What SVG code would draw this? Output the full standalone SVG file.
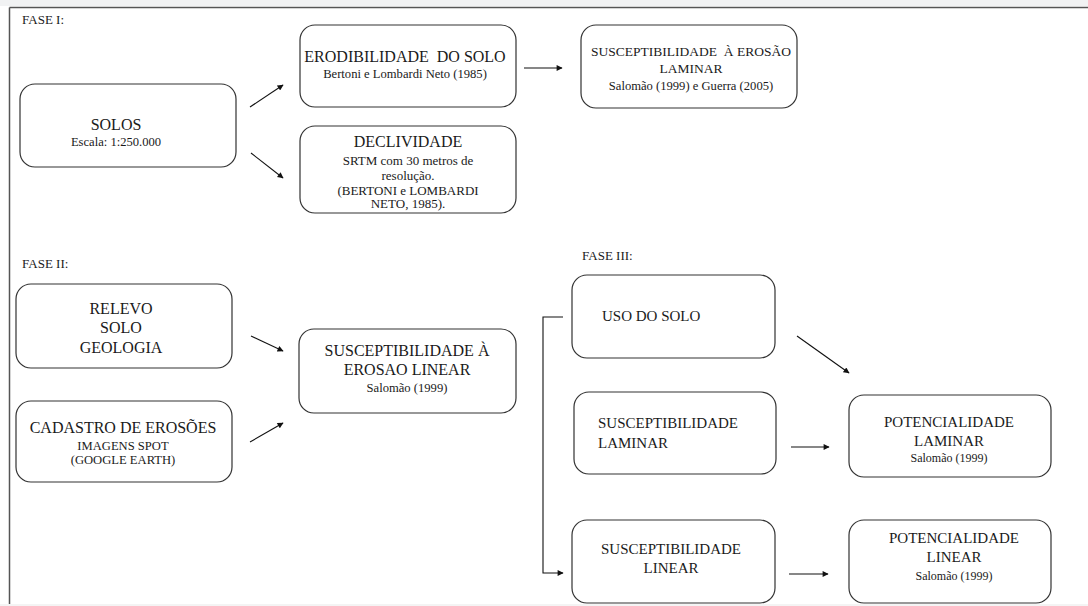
<svg xmlns="http://www.w3.org/2000/svg" width="1088" height="606" viewBox="0 0 1088 606" font-family="'Liberation Serif', 'Times New Roman', 'DejaVu Serif', serif">
<defs>
<marker id="ah" viewBox="0 0 10 10" refX="9" refY="5" markerWidth="7" markerHeight="6" markerUnits="userSpaceOnUse" orient="auto">
<path d="M0,0 L10,5 L0,10 z" fill="#111"/>
</marker>
<style>
.box{fill:#fff;stroke:#333;stroke-width:1.2}
text{font-family:'Liberation Serif','Times New Roman','DejaVu Serif',serif;fill:#1a1a1a}
.big{font-size:16px}
.b15{font-size:15px}
.mid{font-size:13.5px}
.s13{font-size:13px}
.sm{font-size:12.6px}
.s12{font-size:12px}
.ph{font-size:13px}
.c{text-anchor:middle}
.con{stroke:#111;stroke-width:1.1;fill:none}
</style>
</defs>
<rect x="0" y="0" width="1088" height="606" fill="#fff"/>
<rect x="0" y="0" width="1088" height="6" fill="#f1f2f3"/>
<rect x="0" y="604" width="1088" height="2" fill="#f4f4f4"/>
<g id="frame" stroke="#555" stroke-width="1.5">
<line x1="9.5" y1="7.5" x2="1088" y2="7.5"/>
<line x1="9.5" y1="7.5" x2="9.5" y2="604"/>
</g>
<g id="labels">
<text class="ph" x="22" y="24">FASE I:</text>
<text class="ph" x="22" y="268">FASE II:</text>
<text class="ph" x="582" y="260">FASE III:</text>
</g>
<g id="solos">
<rect class="box" x="20" y="84" width="216" height="83" rx="15"/>
<text class="big c" x="116" y="130">SOLOS</text>
<text class="sm c" x="116" y="146">Escala: 1:250.000</text>
</g>
<g id="erodibilidade">
<rect class="box" x="300" y="25" width="216" height="82" rx="15"/>
<text class="big c" x="405" y="62" xml:space="preserve">ERODIBILIDADE  DO SOLO</text>
<text class="sm c" x="405" y="78">Bertoni e Lombardi Neto (1985)</text>
</g>
<g id="declividade">
<rect class="box" x="300" y="126" width="216" height="87" rx="15"/>
<text class="big c" x="408" y="147">DECLIVIDADE</text>
<text class="s13 c" x="408" y="165">SRTM com 30 metros de</text>
<text class="s13 c" x="408" y="180">resolução.</text>
<text class="s13 c" x="408" y="195">(BERTONI e LOMBARDI</text>
<text class="s13 c" x="408" y="208">NETO, 1985).</text>
</g>
<g id="susc-erosao-laminar">
<rect class="box" x="581" y="25" width="216" height="83" rx="15"/>
<text class="mid c" x="691" y="56" xml:space="preserve">SUSCEPTIBILIDADE  À EROSÃO</text>
<text class="mid c" x="691" y="73">LAMINAR</text>
<text class="sm c" x="691" y="90">Salomão (1999) e Guerra (2005)</text>
</g>
<g id="relevo">
<rect class="box" x="16" y="284" width="216" height="84" rx="15"/>
<text class="big c" x="121" y="314">RELEVO</text>
<text class="big c" x="121" y="333">SOLO</text>
<text class="big c" x="121" y="353">GEOLOGIA</text>
</g>
<g id="cadastro">
<rect class="box" x="16" y="401" width="216" height="81" rx="15"/>
<text class="big c" x="123" y="433">CADASTRO DE EROSÕES</text>
<text class="sm c" x="123" y="450">IMAGENS SPOT</text>
<text class="sm c" x="123" y="464">(GOOGLE EARTH)</text>
</g>
<g id="susc-erosao-linear">
<rect class="box" x="299" y="329" width="217" height="84" rx="15"/>
<text class="big c" x="407" y="356">SUSCEPTIBILIDADE À</text>
<text class="big c" x="407" y="375">EROSAO LINEAR</text>
<text class="sm c" x="407" y="392">Salomão (1999)</text>
</g>
<g id="uso-do-solo">
<rect class="box" x="572" y="275" width="203" height="83" rx="15"/>
<text class="b15" x="602" y="321">USO DO SOLO</text>
</g>
<g id="susc-laminar">
<rect class="box" x="574" y="392" width="202" height="82" rx="15"/>
<text class="b15" x="598" y="428">SUSCEPTIBILIDADE</text>
<text class="b15" x="598" y="448">LAMINAR</text>
</g>
<g id="susc-linear">
<rect class="box" x="572" y="520" width="203" height="83" rx="15"/>
<text class="b15 c" x="671" y="554">SUSCEPTIBILIDADE</text>
<text class="b15 c" x="671" y="573">LINEAR</text>
</g>
<g id="pot-laminar">
<rect class="box" x="849" y="395" width="202" height="82" rx="15"/>
<text class="b15 c" x="949" y="427">POTENCIALIDADE</text>
<text class="b15 c" x="949" y="446">LAMINAR</text>
<text class="s12 c" x="949" y="462">Salomão (1999)</text>
</g>
<g id="pot-linear">
<rect class="box" x="849" y="520" width="202" height="83" rx="15"/>
<text class="b15 c" x="954" y="543">POTENCIALIDADE</text>
<text class="b15 c" x="954" y="562">LINEAR</text>
<text class="s12 c" x="954" y="580">Salomão (1999)</text>
</g>
<g id="connectors">
<line class="con" x1="250" y1="107" x2="283" y2="85" marker-end="url(#ah)"/>
<line class="con" x1="251" y1="153" x2="283" y2="178" marker-end="url(#ah)"/>
<line class="con" x1="524" y1="68" x2="562" y2="68" marker-end="url(#ah)"/>
<line class="con" x1="251" y1="336" x2="283" y2="351" marker-end="url(#ah)"/>
<line class="con" x1="250" y1="442" x2="283" y2="423" marker-end="url(#ah)"/>
<polyline class="con" points="563,317 543,317 543,573 563,573" marker-end="url(#ah)"/>
<line class="con" x1="797" y1="336" x2="849" y2="373" marker-end="url(#ah)"/>
<line class="con" x1="791" y1="447" x2="829" y2="447" marker-end="url(#ah)"/>
<line class="con" x1="789" y1="574" x2="828" y2="574" marker-end="url(#ah)"/>
</g>
</svg>
